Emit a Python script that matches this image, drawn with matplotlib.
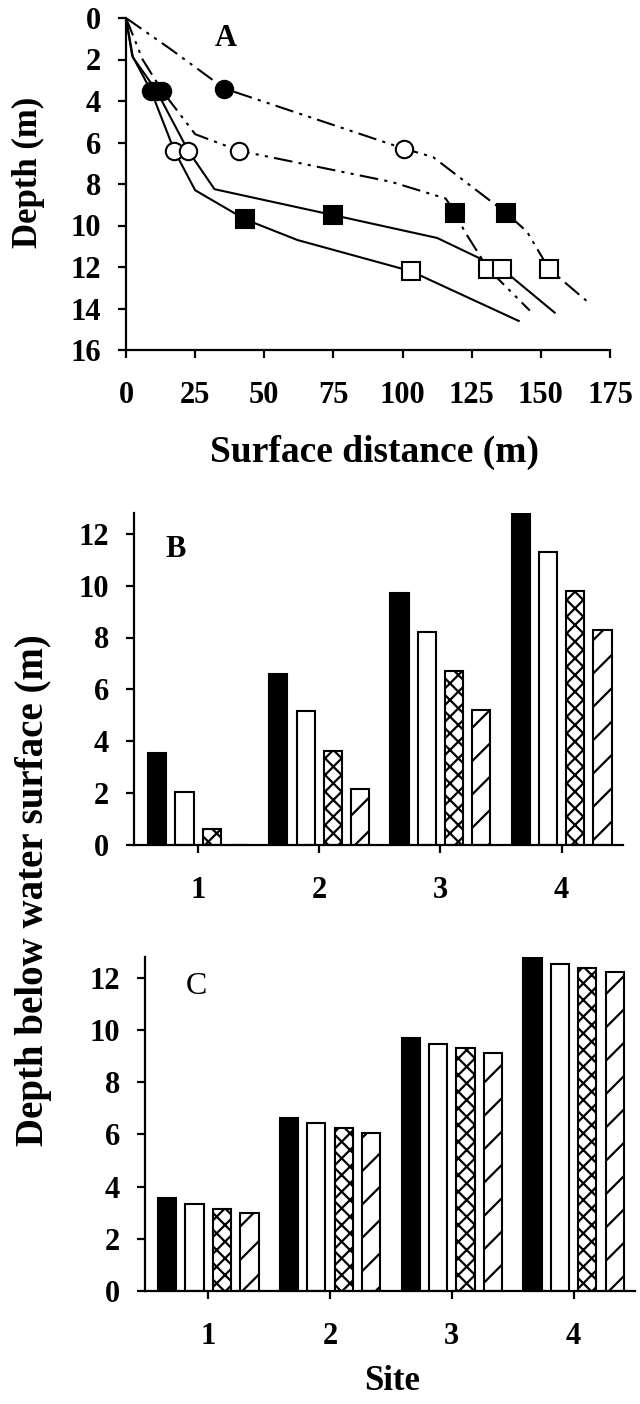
import matplotlib
matplotlib.use("Agg")
import matplotlib.pyplot as plt
import numpy as np

plt.rcParams['font.family'] = ['Liberation Serif', 'DejaVu Serif']
plt.rcParams['font.weight'] = 'bold'
plt.rcParams['hatch.linewidth'] = 1.6

# ---- panel A: depth profiles along surface distance ----
# four transects, two drawn solid and two dash-dot-dot
s1_x = [0, 2.2, 9, 17.5, 25, 43, 62, 103, 142]
s1_y = [0, 1.8, 3.5, 6.4, 8.3, 9.7, 10.7, 12.2, 14.6]
s2_x = [0, 2.5, 11, 22.5, 32, 75, 112.5, 136, 155]
s2_y = [0, 1.9, 3.5, 6.4, 8.25, 9.5, 10.6, 12.1, 14.2]
s3_x = [0, 6, 13, 25, 41, 96, 115.6, 119, 122.5, 131, 146]
s3_y = [0, 2.0, 3.5, 5.6, 6.4, 7.9, 8.7, 9.4, 10.3, 12.1, 14.1]
s4_x = [0, 15.6, 35.6, 100.6, 111, 137.5, 145, 153, 168]
s4_y = [0, 1.45, 3.4, 6.3, 6.7, 9.4, 10.3, 12.1, 13.8]

# marker positions (one per transect and site)
fcirc_x = [9, 11, 13, 35.6]
fcirc_y = [3.5, 3.5, 3.5, 3.4]
ocirc_x = [17.5, 22.5, 41, 100.6]
ocirc_y = [6.4, 6.4, 6.4, 6.3]
fsq_x = [43, 75, 119, 137.5]
fsq_y = [9.7, 9.5, 9.4, 9.4]
osq_x = [103, 131, 136, 153]
osq_y = [12.2, 12.1, 12.1, 12.1]

dist_ticks = [0, 25, 50, 75, 100, 125, 150, 175]
depth_ticks = [0, 2, 4, 6, 8, 10, 12, 14, 16]

# ---- panels B and C: depth below water surface per site ----
sites = [1, 2, 3, 4]
b_black = [3.55, 6.6, 9.7, 12.78]
b_white = [2.05, 5.15, 8.2, 11.3]
b_cross = [0.6, 3.62, 6.72, 9.8]
b_hatch = [0.0, 2.15, 5.22, 8.3]

c_black = [3.55, 6.62, 9.7, 12.75]
c_white = [3.32, 6.42, 9.48, 12.52]
c_cross = [3.15, 6.23, 9.3, 12.36]
c_hatch = [3.0, 6.07, 9.14, 12.22]

W, H = 640, 1404
fig = plt.figure(figsize=(W / 100, H / 100), dpi=100)


def px_axes(left, right, top, bottom):
    return fig.add_axes([left / W, 1 - bottom / H, (right - left) / W, (bottom - top) / H])


def px_text(x, y, s, **kw):
    fig.text(x / W, 1 - y / H, s, ha='center', va='center', **kw)


def style(ax):
    ax.spines['top'].set_visible(False)
    ax.spines['right'].set_visible(False)
    for s in ('left', 'bottom'):
        ax.spines[s].set_linewidth(1.6)
    ax.tick_params(direction='out', length=6, width=1.6, labelsize=22)
    ax.tick_params(axis='x', pad=16)
    ax.tick_params(axis='y', pad=12)
    for lab in ax.get_xticklabels() + ax.get_yticklabels():
        lab.set_fontweight('bold')


# panel A
axA = px_axes(126, 610, 18, 350)
dadot = (9, 3, 1.5, 3, 1.5, 3)
axA.plot(s1_x, s1_y, color='black', lw=1.5)
axA.plot(s2_x, s2_y, color='black', lw=1.5)
axA.plot(s3_x, s3_y, color='black', lw=1.5, dashes=dadot)
axA.plot(s4_x, s4_y, color='black', lw=1.5, dashes=dadot)
ms = 12.5
axA.plot(fcirc_x, fcirc_y, 'o', ms=ms, mfc='black', mec='black', mew=1.5)
axA.plot(ocirc_x, ocirc_y, 'o', ms=ms, mfc='white', mec='black', mew=1.5)
axA.plot(fsq_x, fsq_y, 's', ms=ms, mfc='black', mec='black', mew=1.5)
axA.plot(osq_x, osq_y, 's', ms=ms, mfc='white', mec='black', mew=1.5)
axA.set_xlim(0, 175)
axA.set_ylim(16, 0)
axA.set_xticks(dist_ticks)
axA.set_yticks(depth_ticks)
style(axA)
axA.text(36, 1.0, 'A', fontsize=22, fontweight='bold', ha='center', va='center')
px_text(375, 452, 'Surface distance (m)', fontsize=27, fontweight='bold')
px_text(28, 172, 'Depth (m)', fontsize=25, fontweight='bold', rotation=90)

# bar panels
offsets = [-0.338, -0.113, 0.113, 0.338]
bw = 0.15
kinds = [dict(color='black', edgecolor='black'),
         dict(color='white', edgecolor='black'),
         dict(color='white', edgecolor='black', hatch='xx'),
         dict(color='white', edgecolor='black', hatch='/')]


def bars(ax, series):
    x = np.array(sites, dtype=float)
    for vals, off, kw in zip(series, offsets, kinds):
        ax.bar(x + off, vals, bw, linewidth=1.5, **kw)


axB = px_axes(134, 623, 513, 845)
bars(axB, [b_black, b_white, b_cross, b_hatch])
axB.set_xlim(0.47, 4.507)
axB.set_ylim(0, 12.8)
axB.set_xticks(sites)
axB.set_yticks([0, 2, 4, 6, 8, 10, 12])
style(axB)
axB.text(0.81, 11.4, 'B', fontsize=22, fontweight='bold', ha='center', va='center')

axC = px_axes(145, 635, 957, 1291)
bars(axC, [c_black, c_white, c_cross, c_hatch])
axC.set_xlim(0.48, 4.505)
axC.set_ylim(0, 12.8)
axC.set_xticks(sites)
axC.set_yticks([0, 2, 4, 6, 8, 10, 12])
style(axC)
axC.text(0.9, 11.66, 'C', fontsize=23, fontweight='normal', ha='center', va='center')

px_text(392, 1381, 'Site', fontsize=25, fontweight='bold')
px_text(34, 890, 'Depth below water surface (m)', fontsize=28, fontweight='bold',
        rotation=90)

fig.savefig('out.png', dpi=100)
